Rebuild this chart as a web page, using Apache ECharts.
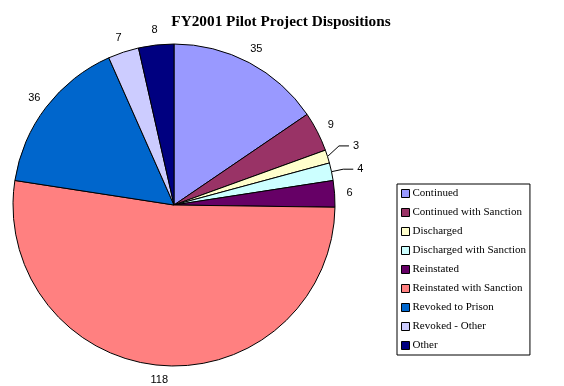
<!DOCTYPE html>
<html><head><meta charset="utf-8">
<script src="https://cdn.jsdelivr.net/npm/echarts@6/dist/echarts.min.js"></script>
<style>html,body{margin:0;padding:0;background:#fff}#c{width:564px;height:386px}</style>
</head><body><div id="c"></div>
<script>
const categories = ['Continued','Continued with Sanction','Discharged','Discharged with Sanction','Reinstated','Reinstated with Sanction','Revoked to Prison','Revoked - Other','Other'];
const values = [35, 9, 3, 4, 6, 118, 36, 7, 8];
const colors = ['#9999FF','#993366','#FFFFCC','#CCFFFF','#660066','#FF8080','#0066CC','#CCCCFF','#000080'];
const withLine = [false,false,true,true,false,false,false,false,false];

const labelFont = {fontFamily: 'Liberation Sans', fontSize: 11, color: '#000'};
const chart = echarts.init(document.getElementById('c'));
chart.setOption({
  animation: false,
  title: {text: 'FY2001 Pilot Project Dispositions', left: 276, top: 10, textAlign: 'center',
    textStyle: {fontFamily: 'Liberation Serif', fontSize: 15.3, fontWeight: 'bold', color: '#000'}},
  legend: {
    orient: 'vertical', left: 397, top: 184, width: 133,
    padding: [3, 4, 3, 4], itemGap: 6, itemWidth: 8, itemHeight: 8, icon: 'rect',
    borderColor: '#000', borderWidth: 1,
    itemStyle: {borderColor: '#000', borderWidth: 1},
    textStyle: {fontFamily: 'Liberation Serif', fontSize: 11, lineHeight: 13, color: '#000', padding: [0,0,0,-2]},
    data: categories
  },
  series: [{
    type: 'pie', center: [174, 205], radius: 161, startAngle: 90, clockwise: true,
    avoidLabelOverlap: false,
    itemStyle: {borderColor: '#000', borderWidth: 1},
    label: Object.assign({position: 'outside', formatter: '{c}', distanceToLabelLine: 4}, labelFont),
    labelLine: {show: true, length: 12, length2: 10, lineStyle: {color: '#000', width: 1}},
    labelLayout: function (p) {
      if (p.dataIndex === 2 && p.labelLinePoints) {
        const pts = p.labelLinePoints.map(q => q.slice());
        pts[1][1] -= 7; pts[2][1] -= 7;
        return {dy: -7, labelLinePoints: pts};
      }
    },
    data: categories.map((n, i) => ({
      name: n, value: values[i], itemStyle: {color: colors[i]},
      label: {show: withLine[i]}, labelLine: {show: withLine[i]}
    }))
  }, {
    type: 'pie', center: [174, 205], radius: [165, 181], startAngle: 90, clockwise: true,
    silent: true, avoidLabelOverlap: false, legendHoverLink: false,
    itemStyle: {color: 'rgba(0,0,0,0)', borderWidth: 0},
    label: Object.assign({position: 'inside', formatter: '{c}'}, labelFont),
    labelLine: {show: false},
    data: categories.map((n, i) => ({
      name: n, value: values[i], label: {show: !withLine[i]}
    }))
  }]
});
</script></body></html>
